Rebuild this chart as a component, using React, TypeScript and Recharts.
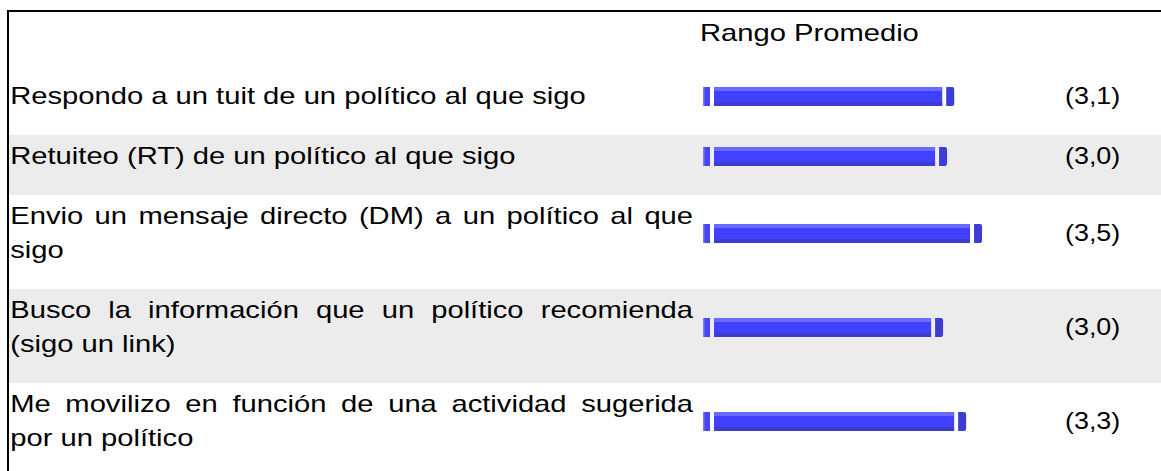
import React from "react";
import { BarChart, Bar, XAxis, YAxis } from "recharts";

const categories: string[] = [
  "Respondo a un tuit de un político al que sigo",
  "Retuiteo (RT) de un político al que sigo",
  "Envio un mensaje directo (DM) a un político al que sigo",
  "Busco la información que un político recomienda (sigo un link)",
  "Me movilizo en función de una actividad sugerida por un político",
];
const rangoPromedio: number[] = [3.16, 3.07, 3.51, 3.02, 3.31];
const valueLabels: string[] = ["(3,1)", "(3,0)", "(3,5)", "(3,0)", "(3,3)"];
const headerTitle = "Rango Promedio";
const xDomain: [number, number] = [0, 4];

const FONT = '"Liberation Sans", Arial, Helvetica, sans-serif';
const SX = 1.215;

const RangeBarShape = (props: any) => {
  const { x, y, width, height } = props;
  if (width == null || width <= 0) return null;
  const capW = 8;
  const gap = 4;
  const leftW = 7;
  const mainX = x + leftW + gap;
  const mainEnd = x + width - capW - gap;
  const mw = Math.max(0, mainEnd - mainX);
  return (
    <g>
      <rect x={x} y={y} width={leftW} height={height} fill="#4646f2" />
      <rect x={x} y={y} width={1.5} height={height} fill="#7a7aff" />
      <rect x={mainX} y={y} width={mw} height={height} fill="#4040ff" />
      <rect x={mainX} y={y} width={mw} height={4} fill="#6a6aff" />
      <rect x={mainX} y={y + height - 4} width={mw} height={4} fill="#3c3cce" />
      <path
        d={`M${x + width - capW},${y} h${capW - 2} q2,0 2,3 v${height - 6} q0,3 -2,3 h${-(capW - 2)} z`}
        fill="#3d3dd4"
      />
    </g>
  );
};

const RowChart = ({ value, name }: { value: number; name: string }) => (
  <BarChart
    layout="vertical"
    width={318}
    height={40}
    data={[{ name, value }]}
    margin={{ top: 0, right: 0, bottom: 0, left: 0 }}
  >
    <XAxis type="number" domain={xDomain} hide />
    <YAxis type="category" dataKey="name" hide />
    <Bar dataKey="value" barSize={19} isAnimationActive={false} shape={RangeBarShape} />
  </BarChart>
);

export default function App() {
  return (
    <div
      style={{
        position: "absolute",
        left: 0,
        top: 0,
        width: 1161,
        height: 471,
        overflow: "hidden",
        background: "#ffffff",
        fontFamily: FONT,
        color: "#000",
      }}
    >
      <div style={{ position: "absolute", left: 7, top: 10, right: 0, height: 2, background: "#000" }} />
      <div style={{ position: "absolute", left: 7, top: 10, width: 2, bottom: 0, background: "#000" }} />
      <div
        style={{
          position: "absolute",
          left: 700,
          top: 19,
          fontSize: 24,
          lineHeight: "27px",
          whiteSpace: "nowrap",
          transform: `scaleX(${SX})`,
          transformOrigin: "left top",
        }}
      >
        {headerTitle}
      </div>
      <div style={{ position: "absolute", left: 9, top: 75, width: 1152 }}>
        {categories.map((cat, i) => (
          <div
            key={cat}
            style={{
              position: "relative",
              paddingBottom: 18,
              background: i % 2 === 1 ? "#ececec" : "transparent",
            }}
          >
            <div
              style={{
                width: 562,
                paddingLeft: 1,
                paddingTop: 4,
                paddingBottom: 4,
                fontSize: 24,
                lineHeight: "34px",
                textAlign: "justify",
                transform: `scaleX(${SX})`,
                transformOrigin: "left top",
              }}
            >
              {cat}
            </div>
            <div
              style={{
                position: "absolute",
                left: 694,
                top: 0,
                bottom: 18,
                display: "flex",
                alignItems: "center",
              }}
            >
              <RowChart value={rangoPromedio[i]} name={cat} />
            </div>
            <div
              style={{
                position: "absolute",
                left: 1056,
                top: 0,
                bottom: 18,
                display: "flex",
                alignItems: "center",
                fontSize: 24,
                whiteSpace: "nowrap",
              }}
            >
              <span style={{ display: "inline-block", transform: "scaleX(1.12)", transformOrigin: "left center" }}>
                {valueLabels[i]}
              </span>
            </div>
          </div>
        ))}
      </div>
    </div>
  );
}
